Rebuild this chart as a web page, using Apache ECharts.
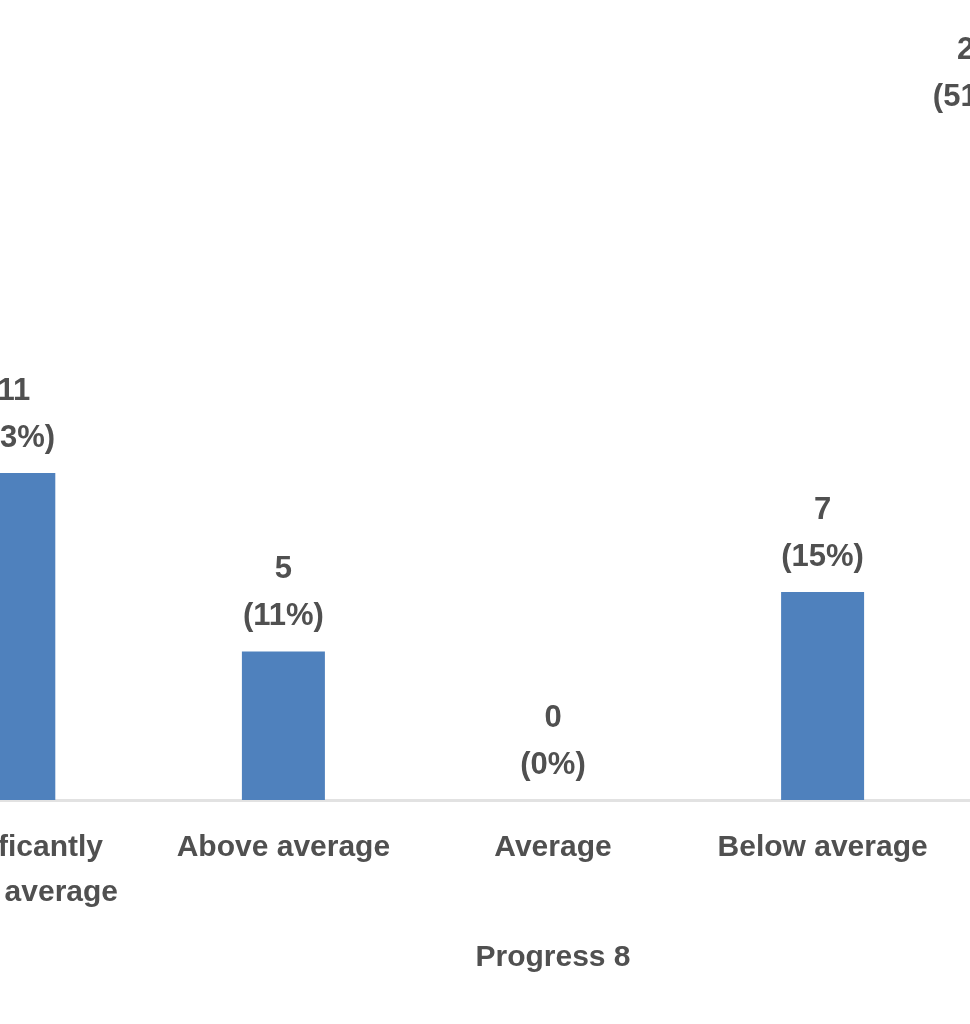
<!DOCTYPE html>
<html>
<head>
<meta charset="utf-8">
<script src="https://cdn.jsdelivr.net/npm/echarts@6/dist/echarts.min.js"></script>
<style>
html,body{margin:0;padding:0;background:#fff;overflow:hidden;width:970px;height:1024px;}
#wrap{position:relative;width:970px;height:1024px;overflow:hidden;}
#c{position:absolute;left:-121px;top:0;width:1348px;height:1024px;}
</style>
</head>
<body>
<div id="wrap"><div id="c"></div></div>
<script>
var categories = ['Significantly\nabove average', 'Above average', 'Average', 'Below average', 'Significantly\nbelow average'];
var counts = [11, 5, 0, 7, 24];
var percents = [23, 11, 0, 15, 51];
var axisTitle = 'Progress 8';

var chart = echarts.init(document.getElementById('c'), null, {renderer: 'canvas'});
var textColor = '#505050';
var font = 'Liberation Sans, Arial, sans-serif';

var seriesData = counts.map(function (v, i) {
  var item = {value: v};
  if (i === 4) {
    item.label = {offset: [-118, 45]};
  }
  return item;
});

chart.setOption({
  animation: false,
  grid: {left: 0, right: 0, top: 57, height: 743, containLabel: false},
  xAxis: {
    type: 'category',
    data: categories,
    name: axisTitle,
    nameLocation: 'middle',
    nameGap: 143,
    nameTextStyle: {color: textColor, fontSize: 30, fontFamily: font, fontWeight: 'bold'},
    axisLine: {show: true, lineStyle: {color: '#e2e2e2', width: 3}},
    axisTick: {show: false},
    axisLabel: {
      color: textColor, fontSize: 30, fontFamily: font, fontWeight: 'bold',
      lineHeight: 45, margin: 25, interval: 0
    }
  },
  yAxis: {
    type: 'value', min: 0, max: 25, show: false,
    splitLine: {show: false}
  },
  series: [{
    type: 'bar',
    data: seriesData,
    barWidth: 83,
    itemStyle: {color: '#4f81bd'},
    label: {
      show: true,
      position: 'top',
      distance: 11,
      color: textColor,
      fontSize: 31,
      fontFamily: font,
      fontWeight: 'bold',
      lineHeight: 47,
      formatter: function (p) {
        return counts[p.dataIndex] + '\n(' + percents[p.dataIndex] + '%)';
      }
    }
  }]
});
</script>
</body>
</html>
